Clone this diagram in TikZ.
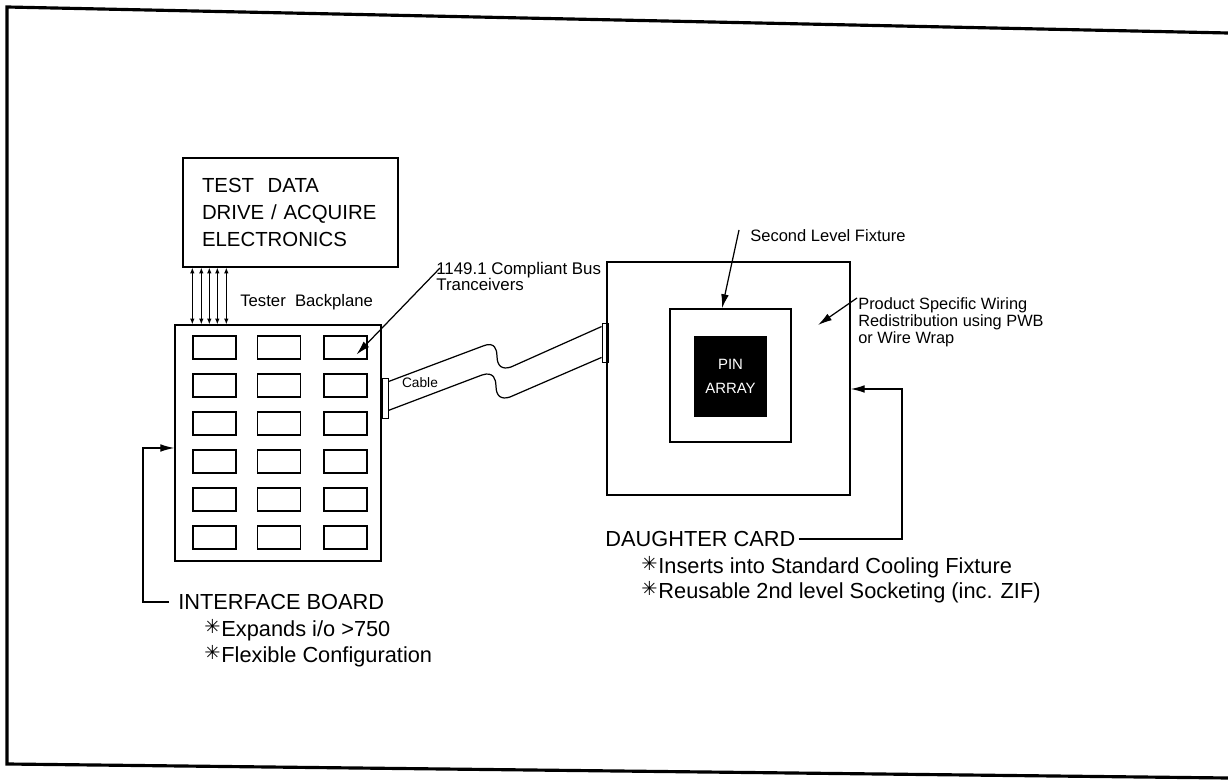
\documentclass[tikz,border=0pt]{standalone}
\usepackage{fontspec}
\setmainfont{Liberation Sans}
\newfontfamily\starfont{DejaVu Sans}
\usetikzlibrary{arrows.meta, calc}
\newcommand{\bstar}{{\starfont\fontsize{11}{11}\selectfont\raisebox{0.25ex}{✳}}\kern0.5pt}

\begin{document}
\begin{tikzpicture}[x=0.02cm, y=-0.02cm,
  board/.style={rectangle, draw, line width=0.8pt, inner sep=0pt},
  slot/.style={rectangle, draw, line width=0.7pt,
    minimum width=0.86cm, minimum height=0.46cm, inner sep=0pt},
  plug/.style={rectangle, draw, line width=0.5pt,
    minimum width=0.12cm, inner sep=0pt},
  lbl/.style={inner sep=0pt, align=left},
  big/.style={lbl, font=\fontsize{12.4}{14}\selectfont},
  small/.style={lbl, font=\fontsize{9.4}{8.6}\selectfont},
  ar/.style={-{Latex[length=8pt, width=4.4pt]}, line width=0.7pt},
  biar/.style={{Latex[length=3.2pt, width=2.6pt]}-{Latex[length=3.2pt, width=2.6pt]}, line width=0.6pt}
]
  \useasboundingbox (0,0) rectangle (1228,780);
  \draw[line width=1.8pt] (1228,33) -- (7,7) -- (7,764) -- (1228,778);

  \node[board, minimum width=4.3cm, minimum height=2.18cm, text width=3.54cm,
    align=left, font=\fontsize{11.6}{15.3}\selectfont] (tdbox) at (290.5,212.5)
    {TEST\ \ DATA\\DRIVE / ACQUIRE\\ELECTRONICS};

  \node[board, minimum width=4.12cm, minimum height=4.72cm] (ifboard) at (278,443) {};
  \foreach \r in {1,...,6}
    \foreach \cx [count=\c] in {214.5,279,345.5}
      \node[slot] (slot-\r-\c) at (\cx, 309.5+38*\r) {};

  \foreach \dx in {10,19,27,35,44}
    \draw[biar] ($(tdbox.south west)+(\dx,0)$) -- ($(tdbox.south west |- ifboard.north)+(\dx,0)$);

  \node[lbl, font=\fontsize{9.5}{11}\selectfont, anchor=west] (bpl) at (240,302) {Tester\ \ Backplane};
  \node[lbl, font=\fontsize{9.6}{9}\selectfont, anchor=north west] (busl) at (436,262)
    {1149.1 Compliant Bus\\Tranceivers};
  \draw[ar] ([shift={(4,6)}]busl.north west) -- ($(slot-1-3.center)+(11,7)$);

  \node[plug, minimum height=0.8cm] (lplug) at (385,398) {};
  \node[plug, minimum height=0.78cm] (rplug) at (605,342.5) {};
  \draw[line width=0.7pt] ($(lplug.north east)+(0,4)$) -- (483,346)
    .. controls (495,341) and (497,350) .. (497,356)
    .. controls (497,366) and (502,370) .. (511,367) -- ($(rplug.north west)+(0,4)$);
  \draw[line width=0.7pt] ($(lplug.south east)+(0,-8)$) -- (482,375)
    .. controls (494,371) and (496,380) .. (496,386)
    .. controls (496,396) and (501,400) .. (510,397) -- ($(rplug.south west)+(0,-5)$);
  \node[lbl, font=\fontsize{7.8}{9}\selectfont] (cablel) at (420,383) {Cable};

  \node[board, minimum width=4.86cm, minimum height=4.66cm] (dcard) at (728.5,378.5) {};
  \node[board, minimum width=2.42cm, minimum height=2.66cm] (fixture) at (730.5,375.5) {};
  \node[rectangle, fill=black, minimum width=1.46cm, minimum height=1.62cm,
    text=white, align=center, font=\fontsize{8.5}{13.6}\selectfont] (pins) at (730.5,376.5) {PIN\\ARRAY};

  \node[small, anchor=west] (slfl) at (750,236) {Second Level Fixture};
  \draw[ar] ([shift={(-11,-6)}]slfl.west) -- ([xshift=-0.17cm]fixture.north);

  \node[small, anchor=north west, font=\fontsize{9.3}{8.6}\selectfont] (pswl) at (858,297)
    {Product Specific Wiring\\Redistribution using PWB\\or Wire Wrap};
  \coordinate (wiring) at (818,325);
  \draw[ar] ([shift={(-1,1)}]pswl.north west) -- (wiring);

  \node[big, anchor=west] (ifl) at (178,602) {INTERFACE BOARD};
  \node[big, anchor=west] (ifl1) at (204,630) {\bstar Expands i/o >750};
  \node[big, anchor=west] (ifl2) at (204,656) {\bstar Flexible Configuration};
  \coordinate (ifbend) at (143,602);
  \draw[ar] ($(ifl.west)+(-9,0)$) -- (ifbend) |- ($(ifboard.west)+(0,5)$);

  \node[big, anchor=west] (dcl) at (605,539) {DAUGHTER CARD};
  \node[big, anchor=west] (dcl1) at (641,567) {\bstar Inserts into Standard Cooling Fixture};
  \node[big, anchor=west] (dcl2) at (641,592) {\bstar Reusable 2nd level Socketing (inc. ZIF)};
  \coordinate (dcbend) at (902,539);
  \draw[ar] ($(dcl.east)+(3,0)$) -- (dcbend) |- ($(dcard.east)+(0,10.5)$);
\end{tikzpicture}
\end{document}
